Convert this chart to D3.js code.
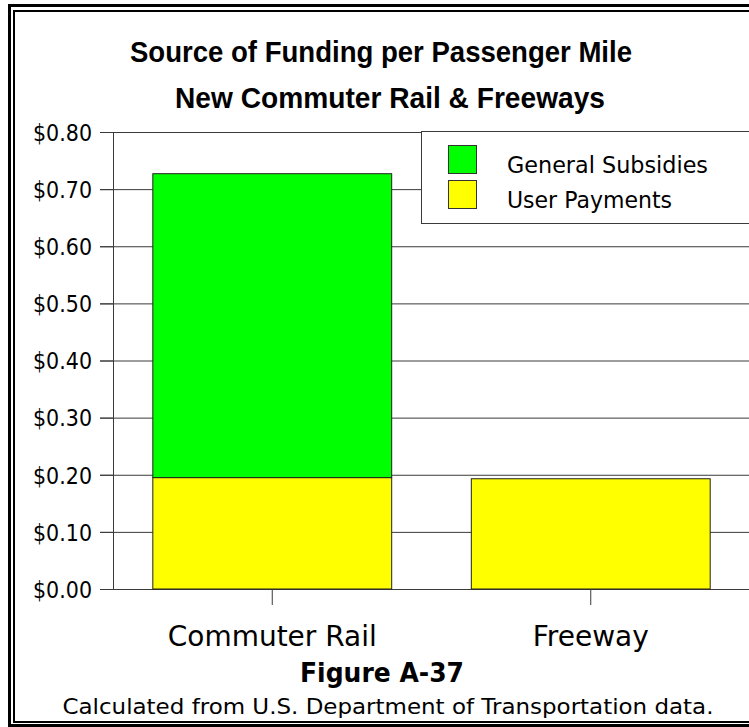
<!DOCTYPE html>
<html>
<head>
<meta charset="utf-8">
<script src="https://cdn.jsdelivr.net/npm/d3@7"></script>
<style>
  body { margin: 0; background: #fff; }
  text { font-family: "DejaVu Sans", sans-serif; fill: #000; }
  text.title { font-family: "Liberation Sans", Arial, sans-serif; }
</style>
</head>
<body>
<div id="chart"></div>
<script>
// data
var categories = ["Commuter Rail", "Freeway"];
var seriesNames = ["User Payments", "General Subsidies"];
var userPayments = [0.195, 0.193];
var generalSubsidies = [0.532, 0];
var seriesColors = ["#ffff00", "#00ff00"];
var yTicks = [0, 0.1, 0.2, 0.3, 0.4, 0.5, 0.6, 0.7, 0.8];

var width = 749, height = 727;

var svg = d3.select("#chart")
    .append("svg")
    .attr("width", width)
    .attr("height", height);

// frame (double line, right side runs off the page)
svg.append("rect")
    .attr("x", 9.5).attr("y", 5.5)
    .attr("width", 800).attr("height", 720)
    .attr("fill", "none").attr("stroke", "#000").attr("stroke-width", 3);
svg.append("rect")
    .attr("x", 14).attr("y", 11)
    .attr("width", 800).attr("height", 711)
    .attr("fill", "none").attr("stroke", "#000").attr("stroke-width", 2);

// scales
var y = d3.scaleLinear().domain([0, 0.8]).range([589, 132]);
var x = d3.scaleBand()
    .domain(categories)
    .range([113, 750])
    .paddingInner(0.25)
    .paddingOuter(0.125);

// gridlines
svg.append("g")
    .attr("transform", "translate(100,0)")
    .call(d3.axisLeft(y).tickValues(yTicks).tickSize(-700).tickFormat(""))
    .call(function (g) { g.select(".domain").remove(); })
    .selectAll("line").attr("stroke", "#3a3a3a");

// y axis
var yAxis = svg.append("g")
    .attr("transform", "translate(113,0)")
    .call(d3.axisLeft(y).tickValues(yTicks).tickSize(13).tickSizeOuter(0)
        .tickFormat(d3.format("$.2f")));
yAxis.select(".domain").attr("stroke", "#3a3a3a");
yAxis.selectAll("line").attr("stroke", "#3a3a3a");
yAxis.selectAll("text")
    .attr("x", -21)
    .attr("dy", "0.36em")
    .attr("font-size", 23)
    .attr("textLength", 59)
    .attr("lengthAdjust", "spacingAndGlyphs");

// stacked bars
var rows = categories.map(function (c, i) {
    return {cat: c, "User Payments": userPayments[i], "General Subsidies": generalSubsidies[i]};
});
var stacked = d3.stack().keys(seriesNames)(rows);

svg.selectAll("g.layer")
    .data(stacked)
    .enter().append("g")
    .attr("class", "layer")
    .attr("fill", function (d, i) { return seriesColors[i]; })
    .selectAll("rect")
    .data(function (d) { return d.filter(function (p) { return p[1] - p[0] > 0; }); })
    .enter().append("rect")
    .attr("x", function (d) { return x(d.data.cat); })
    .attr("y", function (d) { return y(d[1]); })
    .attr("width", x.bandwidth())
    .attr("height", function (d) { return y(d[0]) - y(d[1]); })
    .attr("stroke", "#222")
    .attr("stroke-width", 1);

// x axis (ticks below baseline)
var xAxis = svg.append("g")
    .attr("transform", "translate(0,589)")
    .call(d3.axisBottom(x).tickSize(16).tickSizeOuter(0));
xAxis.select(".domain").remove();
xAxis.selectAll("line").attr("stroke", "#3a3a3a");
var catWidths = {"Commuter Rail": 209, "Freeway": 116};
xAxis.selectAll("text")
    .attr("y", 57)
    .attr("dy", 0)
    .attr("font-size", 28)
    .attr("textLength", function (d) { return catWidths[d]; })
    .attr("lengthAdjust", "spacingAndGlyphs");

// legend
var legend = svg.append("g");
legend.append("rect")
    .attr("x", 421.5).attr("y", 131.5)
    .attr("width", 400).attr("height", 92)
    .attr("fill", "#fff").attr("stroke", "#3a3a3a");
var legendItems = [
    {name: "General Subsidies", color: seriesColors[1], w: 201},
    {name: "User Payments", color: seriesColors[0], w: 165}
];
legendItems.forEach(function (d, i) {
    legend.append("rect")
        .attr("x", 448.5).attr("y", 145.5 + i * 35)
        .attr("width", 28).attr("height", 28)
        .attr("fill", d.color).attr("stroke", "#333");
    legend.append("text")
        .attr("x", 507).attr("y", 173 + i * 35)
        .attr("font-size", 23)
        .attr("textLength", d.w)
        .attr("lengthAdjust", "spacingAndGlyphs")
        .text(d.name);
});

// titles and notes
function label(txt, cx, cy, size, weight, w, cls) {
    svg.append("text")
        .attr("class", cls || null)
        .attr("x", cx - w / 2).attr("y", cy)
        .attr("font-size", size)
        .attr("font-weight", weight)
        .attr("textLength", w)
        .attr("lengthAdjust", "spacingAndGlyphs")
        .text(txt);
}
label("Source of Funding per Passenger Mile", 381, 62, 29, "bold", 502, "title");
label("New Commuter Rail & Freeways", 390, 108, 29, "bold", 430, "title");
label("Figure A-37", 382, 682, 27, "bold", 164);
label("Calculated from U.S. Department of Transportation data.", 388, 714, 22, "normal", 651);
</script>
</body>
</html>
